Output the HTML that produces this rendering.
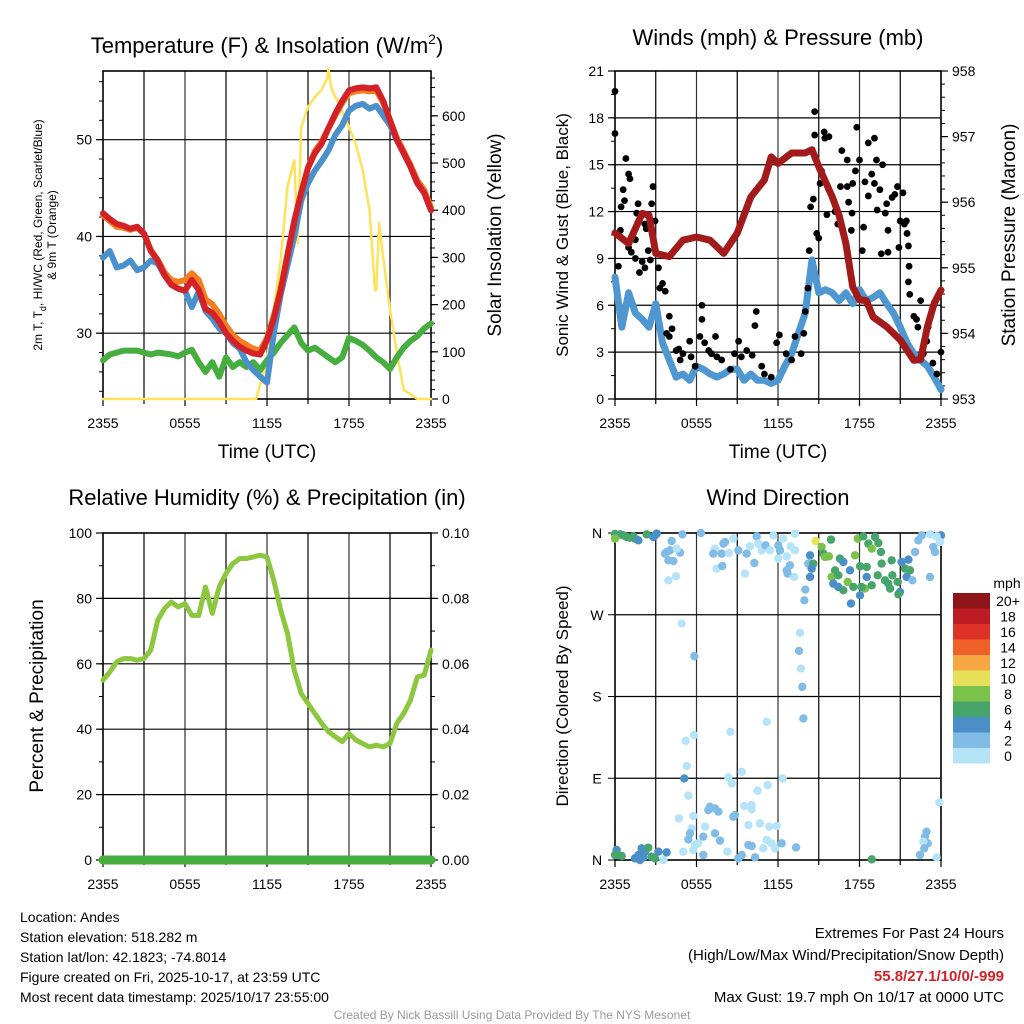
<!DOCTYPE html>
<html><head><meta charset="utf-8">
<style>
html,body{margin:0;padding:0;background:#fff;}
svg{display:block;font-family:"Liberation Sans",sans-serif;}
</style></head>
<body>
<svg id="chart" width="1024" height="1024" viewBox="0 0 1024 1024">
<rect x="0" y="0" width="1024" height="1024" fill="#fff"/>
<text x="267" y="53" font-size="22" text-anchor="middle">Temperature (F) &amp; Insolation (W/m<tspan dy="-9" font-size="14">2</tspan><tspan dy="9">)</tspan></text>
<text x="778" y="45" font-size="22" text-anchor="middle">Winds (mph) &amp; Pressure (mb)</text>
<text x="267" y="505" font-size="22" text-anchor="middle">Relative Humidity (%) &amp; Precipitation (in)</text>
<text x="778" y="505" font-size="22" text-anchor="middle">Wind Direction</text>
<text x="267" y="458" font-size="19" text-anchor="middle">Time (UTC)</text>
<text x="778" y="458" font-size="19" text-anchor="middle">Time (UTC)</text>
<text transform="translate(42,235) rotate(-90)" font-size="12" text-anchor="middle">2m T, T<tspan dy="4" font-size="9">d</tspan><tspan dy="-4">, HI/WC (Red, Green, Scarlet/Blue)</tspan></text>
<text transform="translate(56,235) rotate(-90)" font-size="12" text-anchor="middle">&amp; 9m T (Orange)</text>
<text transform="translate(501,235) rotate(-90)" font-size="19" text-anchor="middle">Solar Insolation (Yellow)</text>
<text transform="translate(568,235) rotate(-90)" font-size="17" text-anchor="middle">Sonic Wind &amp; Gust (Blue, Black)</text>
<text transform="translate(1015,235) rotate(-90)" font-size="19" text-anchor="middle">Station Pressure (Maroon)</text>
<text transform="translate(43,696) rotate(-90)" font-size="19" text-anchor="middle">Percent &amp; Precipitation</text>
<text transform="translate(568,696) rotate(-90)" font-size="17" text-anchor="middle">Direction (Colored By Speed)</text>
<g font-size="14">
<text x="20" y="922">Location: Andes</text>
<text x="20" y="942">Station elevation: 518.282 m</text>
<text x="20" y="962">Station lat/lon: 42.1823; -74.8014</text>
<text x="20" y="982">Figure created on Fri, 2025-10-17, at 23:59 UTC</text>
<text x="20" y="1002">Most recent data timestamp: 2025/10/17 23:55:00</text>
</g>
<g font-size="15" text-anchor="end">
<text x="1004" y="938">Extremes For Past 24 Hours</text>
<text x="1004" y="960">(High/Low/Max Wind/Precipitation/Snow Depth)</text>
<text x="1004" y="981" fill="#d42027" font-weight="bold">55.8/27.1/10/0/-999</text>
<text x="1004" y="1002">Max Gust: 19.7 mph On 10/17 at 0000 UTC</text>
</g>
<text x="512" y="1019" font-size="12" fill="#999" text-anchor="middle">Created By Nick Bassill Using Data Provided By The NYS Mesonet</text>
</svg>
<script>
// ---------- data ----------
const xTickLabels=["2355","0555","1155","1755","2355"];
const airTemp=[42.4,41.8,41.3,41.1,40.8,41.0,40.3,38.5,37.5,36.0,35.0,34.6,34.4,35.5,34.5,32.5,32.1,31.2,30.0,29.2,28.6,28.2,27.9,27.8,29.3,31.5,34.4,38,41.6,44.5,47.1,48.6,49.6,51.2,52.7,54,55.1,55.3,55.4,55.3,55.4,54,52,50,48.6,47.2,45.5,44.5,42.7];
const temp9m=[42.2,41.6,41.0,40.9,40.7,40.9,40.3,38.6,37.6,36.3,35.5,35.3,35.5,36.2,35.5,33.5,33.0,32.0,30.8,29.8,29.2,28.8,28.4,28.2,29.5,31.8,34.6,38.2,41.6,44.5,47.1,48.8,49.8,51.2,52.5,53.8,54.8,55.0,55.1,55.0,55.1,53.8,52,50.2,48.8,47.4,45.8,44.8,43.0];
const windChill=[37.8,38.5,36.8,37,37.5,36.5,36.8,37.5,37.2,36.0,35.0,34.6,34.4,32.7,34.3,32.3,31.5,30.5,30.0,29,28.4,27.0,26.2,25.5,24.9,30,34,37,40,43.7,45.5,46.8,47.8,48.9,50.5,51.5,53.0,53.5,53.7,53.2,53.5,52.5,51.5,50,48.6,47.2,45.5,44.5,42.7];
const dewPoint=[27.2,27.8,28,28.2,28.2,28.2,28,27.8,28,27.9,27.8,27.6,28.0,28.3,27,26,27,25.5,27.5,26.5,27,26.5,27,26.2,27.2,28.0,29,29.8,30.6,29,28.2,28.5,28,27.5,27,27.5,29.5,29.2,28.8,28.2,27.5,27,26.3,27.5,28.5,29.2,29.7,30.5,31];
const solarTimes=[0,11.2,12,12.5,13,13.5,14,14.25,14.5,15,15.5,16,16.4,16.5,16.7,17,17.5,18,18.5,19,19.5,19.9,20,20.2,20.5,21,21.5,22,22.5,23,24];
const solarVals=[0,0,83,190,295,450,506,330,576,619,640,655,680,700,660,640,610,576,540,485,400,230,231,373,300,189,100,19,10,0,0];
const windSpeed=[7.8,4.6,6.8,5.5,5.1,4.6,6.1,3.6,2.5,1.4,1.6,1.2,2.1,1.9,1.6,1.4,1.6,1.9,1.9,1.2,1.6,1.2,1.2,1.0,1.2,2.1,2.9,4.2,5.5,8.9,6.8,7.0,6.8,6.3,6.8,6.1,7.0,6.3,6.5,6.8,6.1,5.5,4.6,3.6,2.9,2.5,2.1,1.4,0.6];
const pressTimes=[0,1,2,2.5,3,4,5,6,7,8,9,10,11,11.5,12,13,14,14.5,15,16,16.5,17,17.5,18,18.5,19,20,21,22,22.5,23,23.5,24];
const pressVals=[955.53,955.37,955.83,955.8,955.22,955.17,955.42,955.47,955.42,955.22,955.53,956.08,956.34,956.69,956.59,956.75,956.75,956.8,956.54,956.08,955.8,955.37,954.71,954.51,954.5,954.25,954.10,953.90,953.59,953.6,954.1,954.46,954.66];
const gustTimes=[0,0,0.25,0.4,0.45,0.6,0.7,0.8,1,1.1,1,1.2,1.35,1.5,1.6,1.7,1.5,1.8,2.0,2.2,2.3,2.2,2.45,2.6,2.7,2.8,2.95,3.2,3.3,3.5,3.7,3.8,4.0,4.2,4.0,4.5,4.7,4.8,5.0,5.5,5.6,5.9,6.25,6.4,6.4,6.6,6.9,7.1,7.4,7.5,7.85,8.5,8.8,9.1,9.3,9.7,10.1,10.3,10.4,10.8,11.0,11.5,11.9,12.1,12.6,13.0,13.25,13.7,13.9,14.0,14.2,14.3,14.4,14.6,14.7,14.7,14.85,15.0,15.1,15.2,15.4,15.45,15.6,15.75,16.1,16.2,16.4,16.6,16.7,17.1,17.1,17.2,17.4,17.5,17.45,17.8,18.0,17.7,18.2,18.3,18.4,18.65,18.65,18.9,19.1,19.1,19.25,19.3,19.5,19.6,19.7,19.9,20.0,20.1,20.1,20.4,20.6,20.8,20.9,21.0,21.2,21.3,21.5,21.45,21.6,21.65,21.6,21.7,22.0,22.2,22.5,22.3,22.7,22.95,23.05,23.4,23.7,24.0];
const gustVals=[19.7,17.0,8.5,10.8,12.3,13.4,12.7,15.4,14.4,14.1,9.7,9.4,10.6,10.2,11.9,12.5,9.0,8.1,8.8,11.2,10.9,8.4,9.5,8.9,12.5,13.6,11.4,8.4,7.1,7.4,6.9,4.2,5.3,4.5,4.0,3.1,3.2,2.5,2.9,3.7,2.7,2.1,4.0,6.0,5.1,3.6,3.1,2.9,4.0,2.7,2.5,1.9,2.9,3.7,2.7,3.1,2.8,4.7,5.6,2.1,1.6,1.4,3.6,4.1,2.9,2.5,4.0,2.9,4.2,5.6,7.1,9.5,12.3,12.8,16.9,18.4,10.6,10.3,13.8,14.6,17.1,16.7,11.8,16.8,12.7,12.0,11.2,13.6,15.9,13.6,15.3,12.6,10.8,13.8,11.9,17.4,15.3,14.6,9.5,11.0,13.9,13.0,16.4,14.4,16.7,13.8,15.3,12.1,13.4,9.3,15.0,11.9,12.5,10.8,9.4,12.9,13.1,13.6,9.7,11.4,13.2,11.2,10.6,11.4,9.8,8.5,7.5,6.7,5.3,5.1,6.3,4.6,2.9,3.7,4.6,2.3,1.6,3.0];
const rhVals=[55,57.5,60.6,61.6,61.6,61.1,61.6,64.2,73.3,76.9,78.9,77.4,78.4,74.8,74.8,83.5,75.4,83.5,87.6,90.6,92.2,92.2,92.7,93.2,92.7,85.5,76.4,69.2,58,50.9,47.9,44.8,41.8,39.2,37.7,36.2,38.7,36.7,35.6,34.6,35.1,34.6,35.6,41.8,44.8,48.9,56,56.5,64.2];
const precipVals=[0,0,0,0,0,0,0,0,0,0,0,0,0,0,0,0,0,0,0,0,0,0,0,0,0,0,0,0,0,0,0,0,0,0,0,0,0,0,0,0,0,0,0,0,0,0,0,0,0];
const dirTimes=[0,0.37,0.61,0.86,1.10,1.35,1.47,1.72,0,2.33,2.94,3.07,2.82,4.17,4.96,6.33,3.80,4.05,3.68,3.93,4.29,4.79,4.54,3.93,4.49,7.36,8.10,7.98,8.71,7.24,7.85,8.39,9.08,9.69,9.94,10.43,10.55,10.80,11.09,11.41,11.66,12.02,12.15,12.39,12.64,12.93,13.25,13.25,12.02,12.88,12.64,12.71,13.20,7.48,7.90,9.57,10.26,
14.77,15.21,15.34,15.46,15.75,15.90,14.36,14.23,14.60,14.48,14.36,14.01,13.94,16.56,16.81,16.20,15.95,16.44,17.30,17.13,17.55,16.07,16.44,16.81,17.37,18.04,17.87,18.28,18.65,19.14,18.90,19.39,19.58,17.67,18.04,18.53,18.53,18.40,18.16,18.90,19.34,19.63,19.88,20.12,20.25,20.37,20.42,20.81,20.98,20.86,21.10,21.35,21.60,21.47,21.72,21.89,22.09,22.33,22.58,23.19,23.44,23.56,24.0,23.93,23.19,23.68,
4.91,5.84,13.62,13.55,13.69,13.79,13.87,11.17,8.49,5.82,5.20,5.28,5.10,5.40,8.34,8.59,9.33,11.24,12.34,10.50,23.88,
6.99,7.36,7.61,6.87,4.71,5.77,9.52,10.06,10.06,8.83,8.71,6.63,5.64,5.52,5.40,6.50,7.36,7.73,5.89,6.13,5.77,5.03,8.27,9.82,10.67,11.36,11.90,11.17,11.53,11.78,12.27,9.82,10.06,10.92,13.33,10.31,9.08,9.33,6.50,22.94,22.82,23.02,22.70,22.77,22.45,23.68,18.90,
0.12,0.25,0,0.49,1.47,1.72,1.96,2.21,2.45,2.70,2.94,3.19,3.56,3.80,2.09,1.84];
const dirDegs=[359,358.5,357.4,355.6,354.9,356.3,353.8,351.9,353.8,358.5,357.4,359.3,355.6,351.2,358.5,360,339.1,340.9,337.3,329.9,329.2,338.4,342.8,307.9,312.3,342.8,350.1,348.3,353.8,337.3,337.3,338,340.9,337.3,345.3,356.3,348.3,340.9,346.4,340.9,357.4,346.4,340.9,353.8,334.3,345.3,359.3,340.9,331.8,324.4,318.9,315.3,311.6,320.8,323.7,315.3,327,
351.2,344.6,337.3,333.6,334.3,352.7,335.4,326.3,326.3,320.8,311.6,297.7,285.9,331.8,328.1,318.9,311.6,313.4,318.9,306.1,300.6,304.3,300.6,296.9,282.3,291.4,353.8,356.3,348.3,355.6,342.8,349,339.1,335.4,323.3,322.6,311.6,298.8,300.6,302.4,313.4,326.3,307.9,304.3,298.8,329.9,313.4,306.1,295.1,292.5,328.1,320.8,330.7,311.6,318.9,307.9,339.1,351.9,357.4,358.5,344.6,339.1,357.4,350.1,311.6,356.3,
260.3,224.4,250,230.2,210.8,190.6,155.8,152.1,141.1,137.5,131.2,103.4,89.8,70.8,90.9,84.3,97.1,82.5,89.8,76.3,63.4,
58.7,56.8,53.2,55,45.8,48.4,59.4,60.5,55.7,49.5,47.7,36.7,34.8,29.3,22.7,25.7,29.3,21.3,16.5,18.3,11,9.2,9.2,38.5,40.3,36.7,37.4,22,18.3,12.8,18.3,16.5,15.4,12.8,13.9,2.9,1.8,5.5,5.5,31.2,25.7,18.3,20.2,12.8,5.5,2.9,0.7,
11,5.5,5.5,4.4,1.8,5.5,12.8,9.2,13.6,3.7,1.8,9.2,0,8.4,2.9,0];
const dirSpeeds=[7,7,7,7,7,7,7,5,9,7,5,5,5,3,3,3,3,3,3,3,3,3,1,1,1,1,3,3,1,3,3,1,3,3,1,3,1,1,3,1,1,3,3,1,1,1,1,1,1,3,3,3,1,1,3,1,3,
11,9,7,9,9,7,5,3,7,5,5,3,3,7,5,7,9,7,5,9,7,5,5,7,5,5,9,7,7,7,9,7,7,9,7,7,5,9,7,7,7,7,7,7,7,7,7,7,5,7,5,7,5,5,7,3,3,3,3,1,3,3,5,1,3,1,
1,3,1,3,1,3,3,1,1,1,1,1,5,1,1,1,1,1,1,1,1,
3,3,3,3,1,1,1,1,1,3,3,1,1,3,3,3,3,3,1,1,1,1,1,1,1,1,1,1,1,1,3,3,3,1,3,3,3,3,3,3,3,3,1,3,3,1,7,
5,7,7,7,5,5,5,5,7,7,7,5,1,5,5,5];
const legendLabels=["20+","18","16","14","12","10","8","6","4","2","0"];
const legendColors=["#8f1518","#bd1c24","#de3229","#f0612a","#f6a642","#e6e05a","#7bc24a","#47a56b","#4a8fc7","#80bce6","#b5e3f8"];

// ---------- drawing ----------
const svg=document.getElementById('chart');
const NS='http://www.w3.org/2000/svg';
function mk(tag,attrs,parent){const e=document.createElementNS(NS,tag);for(const k in attrs)e.setAttribute(k,attrs[k]);(parent||svg).appendChild(e);return e;}
function lin(d0,d1,r0,r1){return v=>r0+(v-d0)/(d1-d0)*(r1-r0);}

const P1={x0:103,x1:431,y0:71,y1:399},P2={x0:615,x1:941,y0:71,y1:399},P3={x0:103,x1:431,y0:533,y1:860},P4={x0:615,x1:941,y0:533,y1:860};
[P1,P2,P3,P4].forEach(p=>{p.x=lin(0,24,p.x0,p.x1);});
P1.yl=lin(23.2,57.1,P1.y1,P1.y0); P1.yr=lin(0,695,P1.y1,P1.y0);
P2.yl=lin(0,21,P2.y1,P2.y0); P2.yr=lin(953,958,P2.y1,P2.y0);
P3.yl=lin(0,100,P3.y1,P3.y0); P3.yr=lin(0,0.1,P3.y1,P3.y0);
P4.yl=lin(0,360,P4.y1,P4.y0);

function frame(p,name,hGrid){
  const g=mk('g',{});
  
  
  for(let h=3;h<24;h+=3){const l=mk('line',{x1:p.x(h),x2:p.x(h),y1:p.y0,y2:p.y1,stroke:(h%6==0?'#333':'#000'),'stroke-width':1.2},g);
    
    }
  hGrid.forEach(y=>{const l=mk('line',{x1:p.x0,x2:p.x1,y1:y,y2:y,stroke:'#000','stroke-width':1.2},g);
    
    });
  const r=mk('rect',{x:p.x0,y:p.y0,width:p.x1-p.x0,height:p.y1-p.y0,fill:'none',stroke:'#000','stroke-width':1.6},g);
  
  
  for(let h=0;h<=24;h+=3){mk('line',{x1:p.x(h),x2:p.x(h),y1:p.y1,y2:p.y1+(h%6==0?7:5),stroke:'#000','stroke-width':1.2},g);}
  xTickLabels.forEach((s,i)=>{const t=mk('text',{x:p.x(i*6),y:p.y1+29,'font-size':14,'text-anchor':'middle'},g);t.textContent=s;
    
    });
  return g;
}
function yTicks(g,p,scale,major,minorStep,min,max,side,fmt){
  const x=side=='l'?p.x0:p.x1, dir=side=='l'?-1:1;
  for(let v=min;v<=max+1e-9;v+=minorStep){mk('line',{x1:x,x2:x+dir*4,y1:scale(v),y2:scale(v),stroke:'#000','stroke-width':1},g);}
  major.forEach(v=>{const y=scale(v);mk('line',{x1:x,x2:x+dir*7,y1:y,y2:y,stroke:'#000','stroke-width':1.2},g);
    const t=mk('text',{x:x+dir*11,y:y+5,'font-size':14,'text-anchor':side=='l'?'end':'start'},g);t.textContent=fmt(v);
    
    });
}
function path(pts,attrs,name){const d=pts.map((q,i)=>(i?'L':'M')+q[0].toFixed(1)+','+q[1].toFixed(1)).join('');
  const e=mk('path',Object.assign({d:d,fill:'none','stroke-linejoin':'round','stroke-linecap':'round'},attrs));
  
  
  return e;}

// Panel 1
let g1=frame(P1,'temperature',[30,40,50].map(P1.yl));
yTicks(g1,P1,P1.yl,[30,40,50],2,24,56,'l',v=>v);
yTicks(g1,P1,P1.yr,[0,100,200,300,400,500,600],20,0,680,'r',v=>v);
path(solarTimes.map((t,i)=>[P1.x(t),P1.yr(solarVals[i])]),{stroke:'#fde25a','stroke-width':2.5},'solar-insolation-line');
path(dewPoint.map((v,i)=>[P1.x(i*0.5),P1.yl(v)]),{stroke:'#45ae3e','stroke-width':6},'dewpoint-line');
path(temp9m.map((v,i)=>[P1.x(i*0.5),P1.yl(v)]),{stroke:'#f47d20','stroke-width':6},'temp-9m-line');
path(windChill.map((v,i)=>[P1.x(i*0.5),P1.yl(v)]),{stroke:'#4a90cc','stroke-width':6},'wind-chill-line');
path(airTemp.map((v,i)=>[P1.x(i*0.5),P1.yl(v)]),{stroke:'#d42027','stroke-width':6},'air-temp-line');

// Panel 2
let g2=frame(P2,'wind',[3,6,9,12,15,18].map(P2.yl));
yTicks(g2,P2,P2.yl,[0,3,6,9,12,15,18,21],1.5,0,21,'l',v=>v);
yTicks(g2,P2,P2.yr,[953,954,955,956,957,958],0.2,953,958,'r',v=>v);
path(windSpeed.map((v,i)=>[P2.x(i*0.5),P2.yl(v)]),{stroke:'#4f97d0','stroke-width':7},'wind-speed-line');
gustTimes.forEach((t,i)=>{const c=mk('circle',{cx:P2.x(t),cy:P2.yl(gustVals[i]),r:3.4,fill:'#000'});
  
  });
path(pressTimes.map((t,i)=>[P2.x(t),P2.yr(pressVals[i])]),{stroke:'#a31a1a','stroke-width':7},'pressure-line');

// Panel 3
let g3=frame(P3,'humidity',[20,40,60,80].map(P3.yl));
yTicks(g3,P3,P3.yl,[0,20,40,60,80,100],10,0,100,'l',v=>v);
yTicks(g3,P3,P3.yr,[0,0.02,0.04,0.06,0.08,0.1],0.01,0,0.1,'r',v=>v.toFixed(2));
path(rhVals.map((v,i)=>[P3.x(i*0.5),P3.yl(v)]),{stroke:'#8dc63f','stroke-width':5},'rh-line');
path(precipVals.map((v,i)=>[P3.x(i*0.5),P3.yr(v)]),{stroke:'#45ae3e','stroke-width':9},'precip-line');

// Panel 4
let g4=frame(P4,'direction',[90,180,270].map(P4.yl));
const dirLbl=['N','E','S','W','N'];
dirLbl.forEach((s,i)=>{const y=P4.yl(i*90);mk('line',{x1:P4.x0,x2:P4.x0-7,y1:y,y2:y,stroke:'#000'},g4);
  const t=mk('text',{x:P4.x0-18,y:y+5,'font-size':14,'text-anchor':'middle'},g4);t.textContent=s;
  
  });
function spColor(s){let k=Math.min(10,Math.floor(s/2));return legendColors[10-k];}
dirTimes.forEach((t,i)=>{const c=mk('circle',{cx:P4.x(t),cy:P4.yl(dirDegs[i]),r:4.2,fill:spColor(dirSpeeds[i])});
  
  });

// Legend
const lg=mk('g',{});


const lt=mk('text',{x:1007,y:588,'font-size':14,'text-anchor':'middle'},lg);lt.textContent='mph';


legendLabels.forEach((s,i)=>{const y=593+i*15.5;
  const r=mk('rect',{x:953,y:y,width:37,height:15.5,fill:legendColors[i]},lg);
  
  
  const t=mk('text',{x:1008,y:y+13,'font-size':14,'text-anchor':'middle'},lg);t.textContent=s;
  
  });
</script>
</body></html>
